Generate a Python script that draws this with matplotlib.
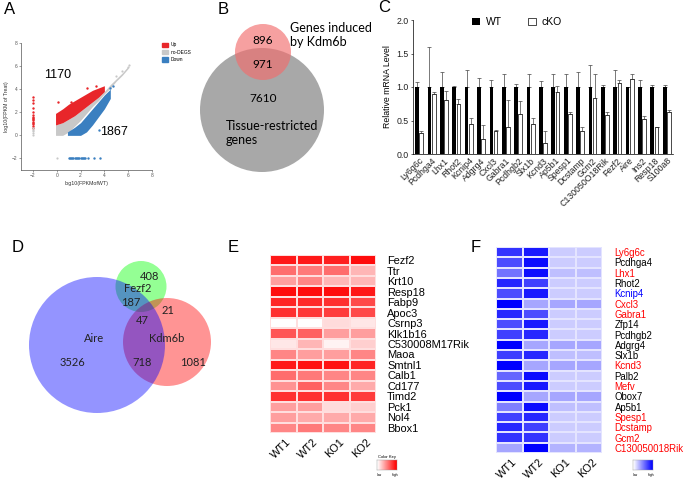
import numpy as np
import matplotlib.pyplot as plt
from matplotlib.patches import Circle, Patch
from matplotlib.colors import LinearSegmentedColormap

plt.rcParams['font.family'] = ['Liberation Sans', 'DejaVu Sans']

W, H = 685, 480

# ---------------- data ----------------
# A: scatter of log10 FPKM (dense cores as bands, sparse points listed)
up_x = [-0.1, 0.5, 1.0, 1.5, 2.0, 2.5, 3.0, 3.5, 4.0]
up_hi = [1.9, 2.3, 2.7, 3.0, 3.3, 3.6, 3.9, 4.1, 4.3]
up_lo = [0.9, 1.1, 1.4, 1.7, 2.1, 2.5, 2.9, 3.3, 3.8]
ns_x = [-0.1, 0.5, 1.0, 1.5, 2.0, 2.5, 3.0, 3.5, 4.0, 4.5, 5.0, 5.5, 6.0]
ns_hi = [0.9, 1.1, 1.4, 1.7, 2.1, 2.5, 2.9, 3.3, 3.8, 4.4, 4.9, 5.4, 6.0]
ns_lo = [0.0, 0.0, 0.3, 0.8, 1.3, 1.9, 2.5, 3.0, 3.6, 4.1, 4.7, 5.2, 5.8]
dn_x = [0.9, 1.5, 2.0, 2.5, 3.0, 3.5, 4.0, 4.5]
dn_hi = [0.3, 0.7, 1.1, 1.7, 2.3, 2.9, 3.5, 4.0]
dn_lo = [0.0, 0.0, 0.0, 0.3, 0.9, 1.6, 2.3, 3.2]
up_pts_x = [-2, -2, -2, -2, -2, -2, -2, -2, -2, -2, -2, -2, -2, -2, -2, 0.1, 2.5, 1.2, 3.3]
up_pts_y = [0.6, 0.8, 1.0, 1.1, 1.2, 1.3, 1.4, 1.5, 1.6, 1.8, 2.0, 2.4, 2.8, 3.1, 3.3, 2.9, 4.1, 2.9, 4.3]
ns_pts_x = [-2, -2, -2, -2, -2, 0.0, 5.0, 5.5, 6.0, 6.1]
ns_pts_y = [0.0, 0.2, 0.35, 0.5, 0.6, -2.0, 5.1, 5.6, 5.9, 6.1]
dn_pts_x = [1.0, 1.1, 1.2, 1.3, 1.4, 1.5, 1.6, 1.7, 1.8, 1.9, 2.0, 2.1, 2.2, 2.3, 2.4, 2.6, 3.1, 3.6, 3.55, 4.45, 4.7]
dn_pts_y = [-2, -2, -2, -2, -2, -2, -2, -2, -2, -2, -2, -2, -2, -2, -2, -2, -2, -2, 0.5, 4.1, 4.3]

# B: Venn counts
b_only_kdm6b, b_both, b_only_tissue = 896, 971, 7610

# C: qPCR
genes_c = ['Ly6g6c', 'Pcdhga4', 'Lhx1', 'Rhot2', 'Kcnip4', 'Adgrg4', 'Cxcl3', 'Gabra1',
           'Pcdhgb2', 'Slx1b', 'Kcnd3', 'Ap5b1', 'Spesp1', 'Dcstamp', 'Gcm2',
           'C130050O18Rik', 'Fezf2', 'Aire', 'Ins2', 'Resp18', 'S100a8']
wt_mean = [1.0] * 21
wt_err = [0.07, 0.60, 0.23, 0.02, 0.25, 0.13, 0.10, 0.19, 0.05, 0.19, 0.09,
          0.19, 0.19, 0.22, 0.33, 0.03, 0.25, 0.0, 0.10, 0.03, 0.03]
ko_mean = [0.32, 0.90, 0.80, 0.74, 0.45, 0.22, 0.34, 0.40, 0.59, 0.45, 0.17,
           0.93, 0.60, 0.34, 0.84, 0.58, 1.06, 1.12, 0.52, 0.40, 0.63]
ko_err = [0.02, 0.02, 0.14, 0.08, 0.09, 0.22, 0.02, 0.40, 0.20, 0.08, 0.17,
          0.08, 0.03, 0.07, 0.35, 0.05, 0.05, 0.08, 0.04, 0.0, 0.02]

# D: three-way Venn counts
d_labels = ['Aire', 'Fezf2', 'Kdm6b']
d_counts = {'aire': 3526, 'fezf2': 408, 'kdm6b': 1081, 'aire_fezf2': 187,
            'fezf2_kdm6b': 21, 'aire_kdm6b': 718, 'all': 47}

# E: heatmap (red)
genes_e = ['Fezf2', 'Ttr', 'Krt10', 'Resp18', 'Fabp9', 'Apoc3', 'Csrnp3', 'Klk1b16',
           'C530008M17Rik', 'Maoa', 'Smtnl1', 'Calb1', 'Cd177', 'Timd2', 'Pck1', 'Nol4', 'Bbox1']
samples = ['WT1', 'WT2', 'KO1', 'KO2']
heat_e = [[0.95, 0.95, 0.92, 1.00],
          [0.60, 0.55, 0.60, 0.30],
          [0.40, 0.50, 0.30, 0.30],
          [1.00, 1.00, 1.00, 0.95],
          [0.90, 0.88, 0.85, 0.75],
          [0.85, 0.82, 0.80, 0.75],
          [0.00, 0.00, 0.15, 0.10],
          [0.70, 0.65, 0.40, 0.40],
          [0.10, 0.30, 0.05, 0.20],
          [0.50, 0.40, 0.40, 0.50],
          [0.95, 0.97, 0.97, 0.90],
          [0.60, 0.55, 0.50, 0.50],
          [0.45, 0.65, 0.50, 0.35],
          [0.85, 0.85, 0.85, 0.80],
          [0.40, 0.40, 0.15, 0.20],
          [0.40, 0.35, 0.35, 0.35],
          [0.50, 0.55, 0.50, 0.50]]

# F: heatmap (blue)
genes_f = ['Ly6g6c', 'Pcdhga4', 'Lhx1', 'Rhot2', 'Kcnip4', 'Cxcl3', 'Gabra1', 'Zfp14',
           'Pcdhgb2', 'Adgrg4', 'Slx1b', 'Kcnd3', 'Palb2', 'Mefv', 'Obox7', 'Ap5b1',
           'Spesp1', 'Dcstamp', 'Gcm2', 'C130050018Rik']
label_colors_f = ['red', 'black', 'red', 'black', 'blue', 'red', 'red', 'black', 'black', 'black',
                  'black', 'red', 'black', 'red', 'black', 'black', 'red', 'red', 'red', 'red']
heat_f = [[0.80, 0.90, 0.20, 0.20],
          [0.70, 0.95, 0.20, 0.20],
          [0.55, 0.95, 0.25, 0.25],
          [0.85, 0.75, 0.20, 0.20],
          [0.70, 0.90, 0.20, 0.20],
          [1.00, 0.35, 0.35, 0.35],
          [0.85, 0.70, 0.20, 0.20],
          [0.70, 0.90, 0.20, 0.20],
          [0.75, 0.85, 0.20, 0.20],
          [1.00, 0.35, 0.35, 0.35],
          [0.75, 0.85, 0.25, 0.25],
          [1.00, 0.35, 0.35, 0.35],
          [0.60, 0.95, 0.20, 0.20],
          [0.70, 0.90, 0.20, 0.20],
          [1.00, 0.35, 0.35, 0.35],
          [0.50, 0.95, 0.25, 0.25],
          [0.75, 0.85, 0.20, 0.20],
          [0.85, 0.75, 0.20, 0.20],
          [0.80, 0.80, 0.20, 0.20],
          [0.35, 1.00, 0.30, 0.30]]


def rect(l, t, r, b):
    return [l / W, 1 - b / H, (r - l) / W, (b - t) / H]


fig = plt.figure(figsize=(6.85, 4.8), dpi=100)

# background axes in pixel coords, used for the Venn diagrams and panel letters
bg = fig.add_axes([0, 0, 1, 1])
bg.set_xlim(0, W)
bg.set_ylim(H, 0)
bg.axis('off')

for letter, (lx, ly) in zip('ABCDEF', [(4, 9), (218, 9), (378, 8), (12, 248), (228, 248), (471, 247)]):
    bg.text(lx, ly, letter, fontsize=12, va='center', ha='left')

# ---------------- A ----------------
axA = fig.add_axes(rect(21, 43, 152, 170))
c_up, c_ns, c_dn = '#e8262a', '#c8c8c8', '#3a7fc0'
axA.fill_between(ns_x, ns_lo, ns_hi, color=c_ns, lw=0)
axA.fill_between(up_x, up_lo, up_hi, color=c_up, lw=0)
axA.fill_between(dn_x, dn_lo, dn_hi, color=c_dn, lw=0)
axA.scatter(up_pts_x, up_pts_y, s=3, color=c_up, lw=0)
axA.scatter(ns_pts_x, ns_pts_y, s=2.5, color=c_ns, lw=0)
axA.scatter(dn_pts_x, dn_pts_y, s=3, color=c_dn, lw=0)
axA.set_xlim(-3, 8)
axA.set_ylim(-3, 8)
axA.set_xticks([-2, 0, 2, 4, 6, 8])
axA.set_yticks([-2, 0, 2, 4, 6, 8])
axA.tick_params(labelsize=3.5, length=1.5, width=0.4, colors='#555555', pad=1)
for s in ['top', 'right']:
    axA.spines[s].set_visible(False)
for s in ['left', 'bottom']:
    axA.spines[s].set_linewidth(0.5)
    axA.spines[s].set_color('#555555')
axA.set_xlabel('log10(FPKMofWT)', fontsize=3.8, labelpad=2, color='#333333')
axA.set_ylabel('log10(FPKM of Treat)', fontsize=3.8, labelpad=2, color='#333333')
axA.text(0.1, 5.2, '1170', fontsize=9, ha='center', va='center')
axA.text(4.8, 0.3, '1867', fontsize=9, ha='center', va='center')
handles = [Patch(color=c_up), Patch(color=c_ns), Patch(color=c_dn)]
fig.legend(handles, ['Up', 'no-DEGS', 'Down'], loc='upper left',
           bbox_to_anchor=(158 / W, 1 - 38 / H), fontsize=3.5, frameon=False,
           handlelength=1.2, handleheight=1.0, labelspacing=0.5, handletextpad=0.4)

# ---------------- B ----------------
venn_font = ['Lato', 'DejaVu Sans']
bg.add_patch(Circle((262, 110), 62, color='#a8a8a8', lw=0))
bg.add_patch(Circle((263, 52), 28, color='#f26d6d', alpha=0.65, lw=0))
bg.text(263, 40, str(b_only_kdm6b), fontsize=8.5, ha='center', va='center', family=venn_font)
bg.text(263, 64, str(b_both), fontsize=8.5, ha='center', va='center', family=venn_font)
bg.text(263, 99, str(b_only_tissue), fontsize=8.5, ha='center', va='center', family=venn_font)
bg.text(226, 133, 'Tissue-restricted\ngenes', fontsize=9, ha='left', va='center',
        linespacing=1.2, family=venn_font)
bg.text(290, 35, 'Genes induced\nby Kdm6b', fontsize=9, ha='left', va='center',
        linespacing=1.2, family=venn_font)

# ---------------- C ----------------
axC = fig.add_axes(rect(413, 20, 673, 154))
x = np.arange(len(genes_c))
bw = 0.3
axC.bar(x - 0.17, wt_mean, bw, color='black', label='WT', zorder=2)
axC.bar(x + 0.17, ko_mean, bw, color='white', edgecolor='black', linewidth=0.5, label='cKO', zorder=2)
axC.errorbar(x - 0.17, wt_mean, yerr=[np.zeros(len(x)), wt_err], fmt='none',
             ecolor='#444444', elinewidth=0.5, capsize=1.2, capthick=0.5, zorder=1)
axC.errorbar(x + 0.17, ko_mean, yerr=[np.zeros(len(x)), ko_err], fmt='none',
             ecolor='#444444', elinewidth=0.5, capsize=1.2, capthick=0.5, zorder=1)
axC.set_xlim(-0.5, len(x) - 0.5)
axC.set_ylim(0, 2.0)
axC.set_yticks([0.0, 0.5, 1.0, 1.5, 2.0])
axC.set_yticklabels(['0.0', '0.5', '1.0', '1.5', '2.0'])
axC.set_xticks(x)
axC.set_xticklabels(genes_c, rotation=45, ha='right', rotation_mode='anchor')
axC.tick_params(labelsize=6.3, length=1.5, width=0.5, pad=1.5, colors='#222222')
axC.tick_params(axis='x', length=0)
for s in ['top', 'right']:
    axC.spines[s].set_visible(False)
for s in ['left', 'bottom']:
    axC.spines[s].set_linewidth(0.5)
axC.set_ylabel('Relative mRNA Level', fontsize=6.3, labelpad=3)
axC.legend(loc='upper left', bbox_to_anchor=(0.227, 1.02), ncol=2, frameon=False, fontsize=7.5,
           handlelength=0.8, handleheight=0.6, columnspacing=2.5, handletextpad=0.5,
           borderpad=0, borderaxespad=0)

# ---------------- D ----------------
bg.add_patch(Circle((141, 286.5), 25.5, color=(0, 1, 0), alpha=0.42, lw=0))
bg.add_patch(Circle((167, 342), 44, color=(1, 0, 0), alpha=0.42, lw=0))
bg.add_patch(Circle((97, 345), 68, color=(0, 0, 1), alpha=0.42, lw=0))
d_text = [('408', 150, 276), ('Fezf2', 138, 288), ('187', 131, 302), ('21', 168, 310),
          ('47', 142, 320), ('Aire', 94, 338), ('Kdm6b', 167, 338), ('3526', 72, 363),
          ('718', 142, 363), ('1081', 193, 363)]
d_vals = {'408': d_counts['fezf2'], '187': d_counts['aire_fezf2'], '21': d_counts['fezf2_kdm6b'],
          '47': d_counts['all'], '3526': d_counts['aire'], '718': d_counts['aire_kdm6b'],
          '1081': d_counts['kdm6b'], 'Aire': d_labels[0], 'Fezf2': d_labels[1], 'Kdm6b': d_labels[2]}
for key, tx, ty in d_text:
    bg.text(tx, ty, str(d_vals[key]), fontsize=8, ha='center', va='center',
            color='#222222', family=venn_font)

# ---------------- E ----------------
red_cmap = LinearSegmentedColormap.from_list('wr', ['#ffffff', '#ff0000'])
axE = fig.add_axes(rect(270, 255, 376, 433))
axE.pcolormesh(np.array(heat_e), cmap=red_cmap, vmin=0, vmax=1.05,
               edgecolors='#ffdede', linewidth=0.3)
axE.set_xlim(0, 4)
axE.set_ylim(len(genes_e), 0)
axE.yaxis.tick_right()
axE.set_yticks(np.arange(len(genes_e)) + 0.5)
axE.set_yticklabels(genes_e, fontsize=7.9)
axE.set_xticks(np.arange(4) + 0.6)
axE.set_xticklabels(samples, fontsize=7.9, rotation=45, ha='right', rotation_mode='anchor')
axE.tick_params(length=0, pad=8)
axE.tick_params(axis='x', pad=3)
for s in axE.spines.values():
    s.set_visible(False)

keyE = fig.add_axes(rect(377, 460, 397, 470))
keyE.imshow(np.linspace(0, 1, 20)[None, :], cmap=red_cmap, aspect='auto')
keyE.set_xticks([])
keyE.set_yticks([])
for s in keyE.spines.values():
    s.set_linewidth(0.3)
    s.set_color('#999999')
keyE.set_title('Color Key', fontsize=3, pad=1.5)
keyE.text(0.1, -0.5, 'low', transform=keyE.transAxes, fontsize=2.5, ha='center', va='center')
keyE.text(0.9, -0.5, 'high', transform=keyE.transAxes, fontsize=2.5, ha='center', va='center')

# ---------------- F ----------------
blue_cmap = LinearSegmentedColormap.from_list('wb', ['#ffffff', '#0000ff'])
axF = fig.add_axes(rect(496, 247, 602, 453))
axF.pcolormesh(np.array(heat_f), cmap=blue_cmap, vmin=0, vmax=1,
               edgecolors='#e4e4ff', linewidth=0.3)
axF.set_xlim(0, 4)
axF.set_ylim(len(genes_f), 0)
axF.yaxis.tick_right()
axF.set_yticks(np.arange(len(genes_f)) + 0.5)
axF.set_yticklabels(genes_f, fontsize=6.9)
for lab, col in zip(axF.get_yticklabels(), label_colors_f):
    lab.set_color(col)
axF.set_xticks(np.arange(4) + 0.6)
axF.set_xticklabels(samples, fontsize=7.9, rotation=45, ha='right', rotation_mode='anchor')
axF.tick_params(length=0, pad=9)
axF.tick_params(axis='x', pad=3)
for s in axF.spines.values():
    s.set_visible(False)

keyF = fig.add_axes(rect(633, 460, 653, 470))
keyF.imshow(np.linspace(0, 1, 20)[None, :], cmap=blue_cmap, aspect='auto')
keyF.set_xticks([])
keyF.set_yticks([])
for s in keyF.spines.values():
    s.set_linewidth(0.3)
    s.set_color('#999999')
keyF.text(0.1, -0.5, 'low', transform=keyF.transAxes, fontsize=2.5, ha='center', va='center')
keyF.text(0.9, -0.5, 'high', transform=keyF.transAxes, fontsize=2.5, ha='center', va='center')

fig.savefig('out.png', dpi=100)
